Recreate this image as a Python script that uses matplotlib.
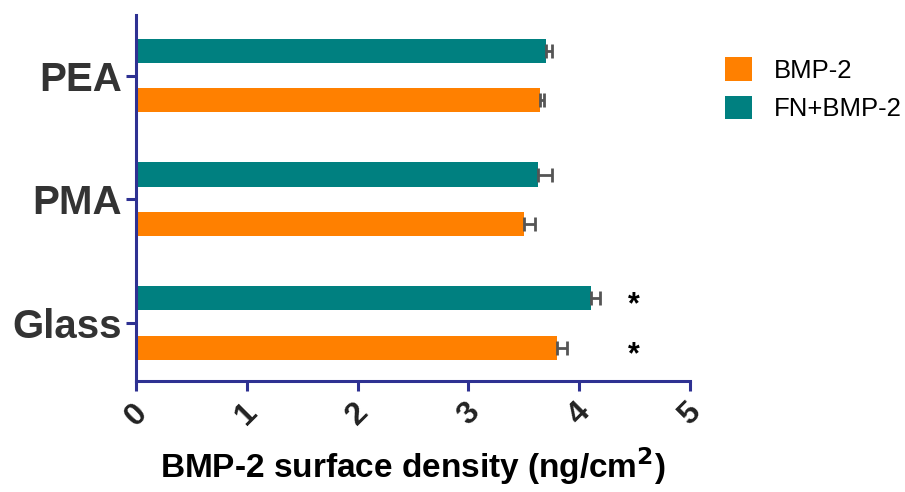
import numpy as np
import matplotlib
matplotlib.use("Agg")
import matplotlib.pyplot as plt

# data
surfaces = ["Glass", "PMA", "PEA"]
bmp2 = [3.80, 3.50, 3.65]
bmp2_err = [0.09, 0.10, 0.03]
fn_bmp2 = [4.11, 3.63, 3.70]
fn_bmp2_err = [0.08, 0.12, 0.05]
signif = ["*", "", ""]  # same mark for both series
xticks = [0, 1, 2, 3, 4, 5]

orange = "#FF8000"
teal = "#008080"
navy = "#2E3192"

plt.rcParams["font.family"] = ["Liberation Sans", "DejaVu Sans"]

fig = plt.figure(figsize=(9.05, 4.92), dpi=100)
ax = fig.add_axes([136 / 905, 1 - 381 / 492, (690 - 136) / 905, (381 - 15) / 492])

y = np.arange(len(surfaces))
h = 0.195
off = 0.2

ax.barh(y - off, bmp2, height=h, color=orange, label="BMP-2", zorder=2)
ax.barh(y + off, fn_bmp2, height=h, color=teal, label="FN+BMP-2", zorder=2)
err_kw = dict(fmt="none", ecolor="#555555", elinewidth=2, capsize=5, capthick=2, zorder=3)
ax.errorbar(bmp2, y - off, xerr=[np.zeros(3), bmp2_err], **err_kw)
ax.errorbar(fn_bmp2, y + off, xerr=[np.zeros(3), fn_bmp2_err], **err_kw)

for i, s in enumerate(signif):
    if s:
        for yy in (y[i] - off, y[i] + off):
            ax.text(4.49, yy - 0.06, s, fontsize=22, fontweight="bold", ha="center", va="center")

ax.set_xlim(0, 5)
ax.set_ylim(-0.47, 2.49)
ax.set_xticks(xticks)
ax.set_xticklabels([str(t) for t in xticks], rotation=45, ha="center",
                   fontsize=23, fontweight="bold")
ax.set_yticks(y)
ax.set_yticklabels(surfaces, fontsize=29, fontweight="bold")

for side in ["top", "right"]:
    ax.spines[side].set_visible(False)
for side in ["left", "bottom"]:
    ax.spines[side].set_color(navy)
    ax.spines[side].set_linewidth(2.2)
ax.tick_params(axis="both", colors=navy, length=7, width=2.2, direction="out")
ax.tick_params(axis="y", pad=3)
ax.tick_params(axis="x", pad=5)
for lab in ax.get_xticklabels():
    lab.set_color("#222222")
for lab in ax.get_yticklabels():
    lab.set_color("#333333")

ax.set_xlabel("BMP-2 surface density (ng/cm$^\\mathbf{2}$)", fontsize=24, fontweight="bold", labelpad=10)

fig.legend(loc="upper left", bbox_to_anchor=(725 / 905, 1 - 57 / 492), frameon=False,
           fontsize=18.5, handlelength=1.05, handleheight=1.05, handletextpad=0.85,
           labelspacing=0.5, borderpad=0, borderaxespad=0)

fig.savefig("out.png", dpi=100)
